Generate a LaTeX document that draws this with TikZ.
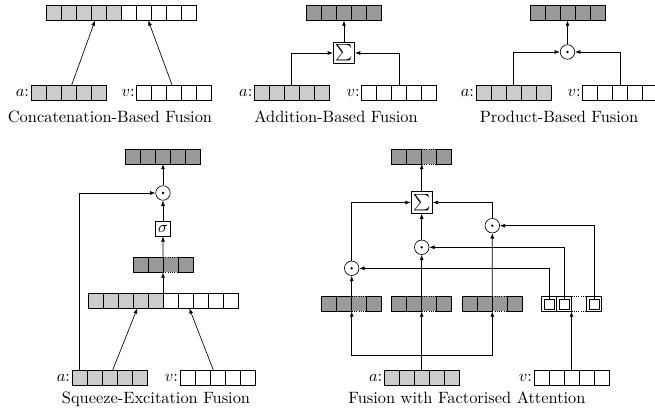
\documentclass[tikz,border=0pt]{standalone}
\usetikzlibrary{arrows.meta}

\definecolor{lightcell}{gray}{0.8}
\definecolor{darkcell}{gray}{0.6}

\begin{document}
\begin{tikzpicture}
[
  x=0.61pt, y=-0.61pt,
  >={Latex[length=3.2pt,width=2.4pt]},
  cell/.style={draw, minimum width=9.15pt, minimum height=9.15pt, inner sep=0pt, outer sep=0pt},
  acell/.style={cell, fill=lightcell},
  vcell/.style={cell, fill=white},
  fcell/.style={cell, fill=darkcell},
  gapcell/.style={cell, draw=none, fill=darkcell},
  wcell/.style={draw, minimum size=6.2pt, inner sep=0pt, outer sep=0pt},
  lbl/.style={anchor=east, inner sep=1pt},
  captxt/.style={anchor=base, inner sep=0pt},
  sumbox/.style={draw, fill=white, inner sep=0pt, minimum size=13.1pt},
  sigbox/.style={draw, fill=white, inner sep=0pt, minimum size=9.15pt},
  prod/.style={circle, draw, fill=white, minimum size=8.85pt, inner sep=0pt,
    path picture={\fill[black] (path picture bounding box.center) circle (0.8pt);}}
]
\useasboundingbox (0,0) rectangle (655,415);

% concatenation
\foreach \i in {1,...,5} \node[acell] (cc\i) at ({39.2+15*\i},13) {};
\foreach \i in {6,...,10} \node[vcell] (cc\i) at ({39.2+15*\i},13) {};
\foreach \i in {1,...,5} \node[acell] (ca\i) at ({23.5+15*\i},93) {};
\foreach \i in {1,...,5} \node[vcell] (cv\i) at ({129.2+15*\i},93) {};
\node[lbl] (cal) at (ca1.west) {$a$:};
\node[lbl] (cvl) at (cv1.west) {$v$:};
\draw[->] ([shift={(3,0)}]ca3.north) -- ([shift={(-4.2,0)}]cc4.south);
\draw[->] ([shift={(-2,0)}]cv3.north) -- ([shift={(4.1,0)}]cc7.south);
\node[captxt] (capcat) at (110,122.5) {Concatenation-Based Fusion};

% addition
\foreach \i in {1,...,5} \node[fcell] (ao\i) at ({299+15*\i},13) {};
\node[sumbox] (asum) at (344,53) {$\sum$};
\foreach \i in {1,...,5} \node[acell] (aa\i) at ({246.8+15*\i},93) {};
\foreach \i in {1,...,5} \node[vcell] (av\i) at ({354.2+15*\i},93) {};
\node[lbl] (aal) at (aa1.west) {$a$:};
\node[lbl] (avl) at (av1.west) {$v$:};
\draw[->] (aa3.north) |- (asum.west);
\draw[->] (av3.north) |- (asum.east);
\draw[->] (asum.north) -- (ao3.south);
\node[captxt] (capadd) at (336,122.5) {Addition-Based Fusion};

% product
\foreach \i in {1,...,5} \node[fcell] (po\i) at ({522.5+15*\i},13) {};
\node[prod] (pprod) at (567.5,52) {};
\foreach \i in {1,...,5} \node[acell] (pa\i) at ({468.5+15*\i},93) {};
\foreach \i in {1,...,5} \node[vcell] (pv\i) at ({575.2+15*\i},93) {};
\node[lbl] (pal) at (pa1.west) {$a$:};
\node[lbl] (pvl) at (pv1.west) {$v$:};
\draw[->] (pa3.north) |- (pprod.west);
\draw[->] (pv3.north) |- (pprod.east);
\draw[->] (pprod.north) -- (po3.south);
\node[captxt] (capprod) at (559,122.5) {Product-Based Fusion};

% squeeze-excitation
\foreach \i in {1,...,5} \node[fcell] (so\i) at ({118+15*\i},156.5) {};
\node[prod] (sprod) at (163,193) {};
\node[sigbox] (ssig) at (163,228.5) {$\sigma$};
\node[gapcell] (sm3) at (170.5,265) {};
\draw[densely dotted] (sm3.north west) -- (sm3.north east) (sm3.south west) -- (sm3.south east);
\foreach \i in {1,2,4} \node[fcell] (sm\i) at ({125.5+15*\i},265) {};
\foreach \i in {1,...,5} \node[acell] (sc\i) at ({80.5+15*\i},300.8) {};
\foreach \i in {6,...,10} \node[vcell] (sc\i) at ({80.5+15*\i},300.8) {};
\foreach \i in {1,...,5} \node[acell] (sa\i) at ({64.5+15*\i},377.5) {};
\foreach \i in {1,...,5} \node[vcell] (sv\i) at ({172.5+15*\i},377.5) {};
\node[lbl] (sal) at (sa1.west) {$a$:};
\node[lbl] (svl) at (sv1.west) {$v$:};
\draw[->] ([shift={(3.2,0)}]sa3.north) -- ([shift={(-3.2,0)}]sc4.south);
\draw[->] ([shift={(-4.2,0)}]sv3.north) -- ([shift={(3.8,0)}]sc7.south);
\draw[->] (sc5.north east) -- (sm2.south east);
\draw[->] (sm2.north east) -- (ssig.south);
\draw[->] (ssig.north) -- (sprod.south);
\draw[->] (sprod.north) -- (so3.south);
\draw[->] (sa1.north) |- (sprod.west);
\node[captxt] (capse) at (156,404) {Squeeze-Excitation Fusion};

% factorised attention
\node[gapcell] (fo3) at (429.2,156.5) {};
\draw[densely dotted] (fo3.north west) -- (fo3.north east) (fo3.south west) -- (fo3.south east);
\foreach \i in {1,2,4} \node[fcell] (fo\i) at ({384.2+15*\i},156.5) {};
\node[sumbox] (fsum) at (421.7,202.5) {$\sum$};
\node[prod] (fpr) at (492.3,225.7) {};
\node[prod] (fpm) at (421.7,247.3) {};
\node[prod] (fpl) at (351.7,268.3) {};
\foreach \v/\x in {fl/314.2, fm/384.2, fr/454.8} {
  \node[gapcell] (\v3) at ({\x+45},304) {};
  \draw[densely dotted] (\v3.north west) -- (\v3.north east) (\v3.south west) -- (\v3.south east);
  \foreach \i in {1,2,4} \node[fcell] (\v\i) at ({\x+15*\i},304) {};
}
\node[cell, draw=none] (fw3) at (579,304) {};
\draw[densely dotted] (fw3.north west) -- (fw3.north east) (fw3.south west) -- (fw3.south east);
\foreach \i in {1,2,4} {
  \node[vcell] (fw\i) at ({534+15*\i},304) {};
  \node[wcell] (fs\i) at (fw\i) {};
}
\foreach \i in {1,...,5} \node[acell] (fa\i) at ({376.7+15*\i},377.5) {};
\foreach \i in {1,...,5} \node[vcell] (fv\i) at ({526.5+15*\i},377.5) {};
\node[lbl] (fal) at (fa1.west) {$a$:};
\node[lbl] (fvl) at (fv1.west) {$v$:};
\coordinate (fsplit) at (421.7,355);
\draw[->] (fa3.north) -- (fm2.south east);
\draw[->] (fsplit) -| (fl2.south east);
\draw[->] (fsplit) -| (fr2.south east);
\draw[->] (fl2.north east) -- (fpl.south);
\draw[->] (fm2.north east) -- (fpm.south);
\draw[->] (fr2.north east) -- (fpr.south);
\draw[->] (fpl.north) |- (fsum.west);
\draw[->] (fpm.north) -- (fsum.south);
\draw[->] (fpr.north) |- (fsum.east);
\draw[->] (fsum.north) -- (fo2.south east);
\draw[->] (fs1.north) |- (fpl.east);
\draw[->] (fs2.north) |- (fpm.east);
\draw[->] (fs4.north) |- (fpr.east);
\draw[->] (fv3.north) -- (fw2.south east);
\node[captxt] (capfa) at (467,404) {Fusion with Factorised Attention};
\end{tikzpicture}
\end{document}
